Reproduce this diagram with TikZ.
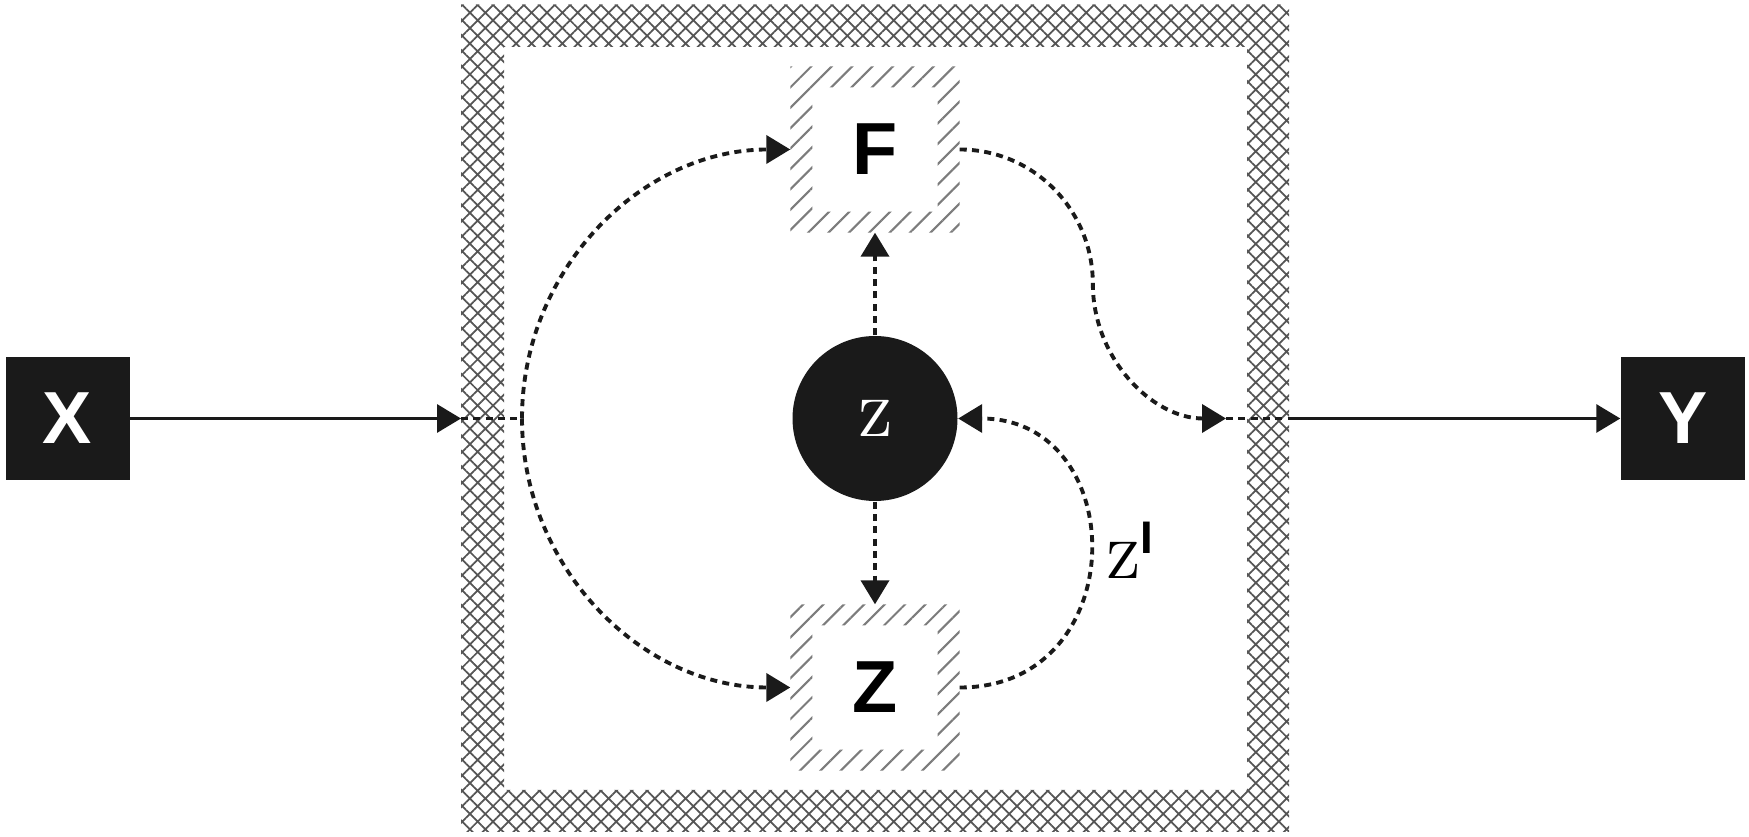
\documentclass[tikz,border=0pt]{standalone}
\usepackage{fontspec}
\setsansfont{Liberation Sans}
\usetikzlibrary{arrows.meta,patterns.meta,calc}
\definecolor{ink}{HTML}{1A1A1A}
\definecolor{hatchgray}{HTML}{7C7C7C}
\definecolor{meshgray}{HTML}{555555}

\begin{document}
\begin{tikzpicture}[
  >={Triangle[length=2.4mm,width=2.8mm]},
  flow/.style={->, line width=0.9pt, ink},
  dotline/.style={line width=1.1pt, ink, dash pattern=on 2pt off 1.5pt},
  dotflow/.style={dotline, ->},
  termbox/.style={fill=ink, text=white, minimum width=1.24cm, minimum height=1.23cm,
    font=\sffamily\bfseries\fontsize{21}{25}\selectfont},
  unitbox/.style={minimum width=1.68cm, minimum height=1.65cm, inner sep=0pt,
    font=\sffamily\bfseries\fontsize{21}{25}\selectfont},
]
  \useasboundingbox (0,0) rectangle (17.49,8.37);
  % Crosshatched frame
  \fill[pattern={Hatch[angle=45,distance=3.1pt,line width=0.5pt]}, pattern color=meshgray, even odd rule]
    (4.61,0.05) rectangle (12.89,8.325) (5.04,0.47) rectangle (12.47,7.90);
  % Terminals
  \node[termbox] (X) at (0.675,4.185) {X};
  \node[termbox] (Y) at (16.83,4.185) {Y};
  % Inner units
  \node[circle, fill=ink, text=white, minimum size=1.65cm, inner sep=0pt,
    font=\fontsize{20}{22}\selectfont] (z) at (8.75,4.185) {\textsc{z}};
  \node[unitbox] (F) at (8.75,6.875) {F};
  \node[unitbox] (Z) at (8.75,1.495) {Z};
  \foreach \u in {F,Z}
    \fill[pattern={Lines[angle=45,distance=4.1pt,line width=0.6pt]}, pattern color=hatchgray, even odd rule]
      (\u.south west) rectangle (\u.north east)
      ($(\u.south west)+(0.22,0.21)$) rectangle ($(\u.north east)-(0.22,0.21)$);
  % Entry and exit points on the frame
  \coordinate (inL) at (4.61,4.185);
  \coordinate (forkL) at (5.22,4.185);
  \coordinate (outR) at (12.26,4.185);
  \coordinate (inR) at (12.89,4.185);
  % Connectors
  \draw[flow] (X) -- (inL);
  \draw[dotline] (inL) -- (forkL);
  \draw[dotflow] (forkL) to[out=90,in=180] (F.west);
  \draw[dotflow] (forkL) to[out=-90,in=180] (Z.west);
  \draw[dotflow] (F.east) to[out=0,in=90] ($(F.east)!0.5!(outR)$) to[out=-90,in=180] (outR);
  \draw[dotline] (outR) -- (inR);
  \draw[flow] (inR) -- (Y);
  \draw[dotflow] (z) -- (F);
  \draw[dotflow] (z) -- (Z);
  \draw[dotflow] (Z.east) to[out=0,in=0,looseness=1.65] (z.east);
  \node[font=\fontsize{20}{22}\selectfont] (zl) at (11.29,2.87)
    {\textsc{z}\raisebox{0.36em}{\sffamily\bfseries\fontsize{13}{13}\selectfont I}};
\end{tikzpicture}
\end{document}
